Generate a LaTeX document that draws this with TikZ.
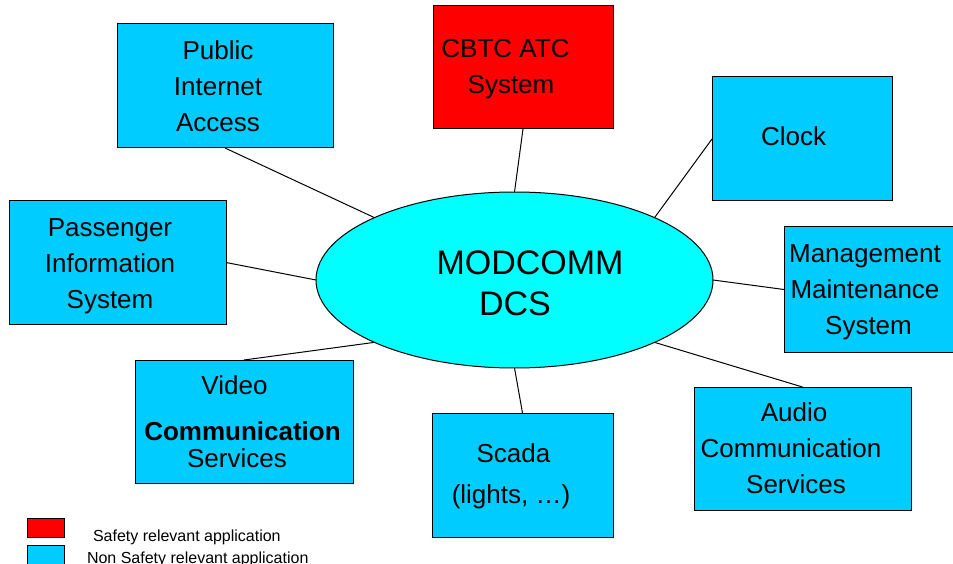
\documentclass[tikz,border=0pt]{standalone}
\usepackage{fontspec}
\setmainfont{Liberation Sans}
\usetikzlibrary{shapes.geometric}
\definecolor{boxblue}{HTML}{00CCFF}
\definecolor{ellcyan}{HTML}{00FFFF}
\definecolor{safered}{HTML}{FF0000}
\begin{document}
\begin{tikzpicture}[x=1pt,y=-1pt,
  appbox/.style={rectangle,draw=black,line width=1pt,fill=boxblue,inner sep=0pt,outer sep=0pt},
  safebox/.style={appbox,fill=safered},
  lbl/.style={inner sep=0pt,outer sep=0pt,align=center,font=\fontsize{26}{36}\selectfont},
  legtext/.style={inner sep=0pt,outer sep=0pt,anchor=base west,font=\fontsize{16}{19}\selectfont},
  conn/.style={draw=black,line width=1pt}]
\useasboundingbox (0,0) rectangle (953,564);
\clip (0,0) rectangle (953,564);

% central ellipse
\node[ellipse,draw=black,line width=1pt,fill=ellcyan,inner sep=0pt,outer sep=0pt,
      minimum width=397pt,minimum height=176pt] (dcs) at (514.5,280) {};
\node[inner sep=0pt,outer sep=0pt,align=center,font=\fontsize{34}{41.5}\selectfont]
      (dcstxt) at (515,283.3) {\hspace*{30pt}MODCOMM\\DCS};

% application boxes
\node[appbox,minimum width=216pt,minimum height=124pt] (pub) at (225,86) {};
\node[lbl] (pubtxt) at (218,86.7) {Public\\Internet\\Access};

\node[safebox,minimum width=180pt,minimum height=123pt] (cbtc) at (523,67.5) {};
\node[lbl] (cbtctxt) at (505.5,68.7) {CBTC ATC\\\hspace*{11pt}System};

\node[appbox,minimum width=180pt,minimum height=124pt] (clock) at (802,139) {};
\node[lbl] (clocktxt) at (793.5,136.5) {Clock};

\node[appbox,minimum width=180pt,minimum height=125pt] (mgmt) at (874,289.5) {};
\node[lbl] (mgmttxt) at (865,292.4) {Management\\Maintenance\\\hspace*{7pt}System};

\node[appbox,minimum width=217pt,minimum height=123pt] (audio) at (802.5,448.5) {};
\node[lbl] (audiotxt) at (791,448.7) {\hspace*{6pt}Audio\\Communication\\\hspace*{10pt}Services};

\node[appbox,minimum width=181pt,minimum height=124pt] (scada) at (522.5,475) {};
\node[lbl] (scadatxt) at (511,476) {\hspace*{5pt}Scada\\[5pt](lights, …)};

\node[appbox,minimum width=218pt,minimum height=123pt] (video) at (244,421.5) {};
\node[lbl] (videotxt) at (242.5,421.5) {Video\hspace*{16pt}\\[10pt]\textbf{Communication}\\[-9pt]Services\hspace*{11pt}};

\node[appbox,minimum width=217pt,minimum height=123pt] (pass) at (117.5,262.5) {};
\node[lbl] (passtxt) at (110,266) {Passenger\\Information\\System};

% connectors
\draw[conn] (dcs.156.2) -- (pub.south);
\draw[conn] (dcs.90) -- (cbtc.south);
\draw[conn] (dcs.24.2) -- (clock.west);
\draw[conn] (dcs.0) -- (mgmt.west);
\draw[conn] (dcs.-24.2) -- (audio.north);
\draw[conn] (dcs.-90) -- (scada.north);
\draw[conn] (dcs.-156.2) -- (video.north);
\draw[conn] (dcs.180) -- (pass.east);

% legend
\node[safebox,minimum width=37pt,minimum height=19pt] (legred) at (45.5,527.5) {};
\node[appbox,minimum width=37pt,minimum height=19pt] (legblue) at (45.5,554.5) {};
\node[legtext] (legsafe) at (93,541.7) {Safety relevant application};
\node[legtext] (legnonsafe) at (87,563.2) {Non Safety relevant application};
\end{tikzpicture}
\end{document}
